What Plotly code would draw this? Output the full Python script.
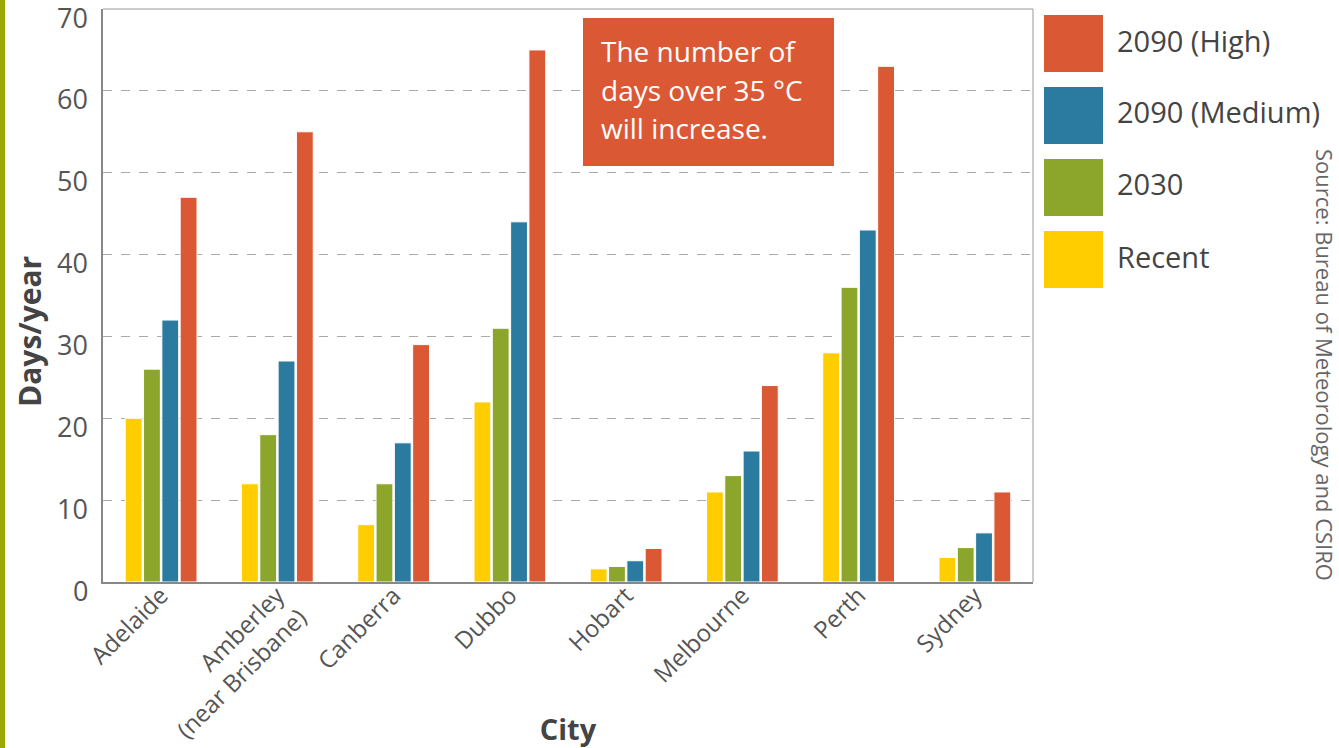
import plotly.graph_objects as go

cities = ["Adelaide", "Amberley<br>(near Brisbane)", "Canberra", "Dubbo", "Hobart",
          "Melbourne", "Perth", "Sydney"]
recent = [20, 12, 7, 22, 1.6, 11, 28, 3]
y2030 = [26, 18, 12, 31, 1.9, 13, 36, 4.2]
medium_2090 = [32, 27, 17, 44, 2.6, 16, 43, 6]
high_2090 = [47, 55, 29, 65, 4.1, 24, 63, 11]

series_names = ["Recent", "2030", "2090 (Medium)", "2090 (High)"]
series_values = [recent, y2030, medium_2090, high_2090]
series_colors = ["#FFCD00", "#8BA62A", "#2B7BA0", "#DB5834"]

y_ticks = [0, 10, 20, 30, 40, 50, 60, 70]
callout_lines = ["The number of", "days over 35 °C", "will increase."]
source_text = "Source: Bureau of Meteorology and CSIRO"

W, H = 1339, 748
ML, MR, MT, MB = 103, 306, 9, 166
PW, PH = W - ML - MR, H - MT - MB

FONT = "Open Sans"
fig = go.Figure()
for name, vals, col in zip(series_names, series_values, series_colors):
    fig.add_trace(go.Bar(x=cities, y=vals, name=name, marker_color=col,
                         marker_line_color="white", marker_line_width=1))

def px_x(px):
    return (px - ML) / PW

def px_y(py):
    return (H - MB - py) / PH

shapes = []
annotations = []
# legend (drawn manually, top to bottom: High, Medium, 2030, Recent)
for i, (name, col) in enumerate(reversed(list(zip(series_names, series_colors)))):
    top = 15 + i * 72
    shapes.append(dict(type="rect", xref="paper", yref="paper",
                       x0=px_x(1044), x1=px_x(1103), y0=px_y(top + 57), y1=px_y(top),
                       fillcolor=col, line=dict(width=0)))
    annotations.append(dict(xref="paper", yref="paper", x=px_x(1115), y=px_y(top + 25),
                            text=name, showarrow=False, xanchor="left", yanchor="middle",
                            font=dict(family=FONT, size=29, color="#444")))

# y tick labels (sit slightly below their gridlines, as in the original)
for v in y_ticks:
    annotations.append(dict(xref="paper", yref="y", x=px_x(90), y=v, yshift=-8,
                            text=str(v), showarrow=False, xanchor="right", yanchor="middle",
                            font=dict(family=FONT, size=27, color="#555")))

# y axis title
annotations.append(dict(xref="paper", yref="paper", x=px_x(30), y=px_y(332),
                        text="<b>Days/year</b>", showarrow=False, textangle=-90,
                        xanchor="center", yanchor="middle",
                        font=dict(family=FONT, size=30, color="#444")))

# callout box
shapes.append(dict(type="rect", xref="paper", yref="paper",
                   x0=px_x(583), x1=px_x(834), y0=px_y(166), y1=px_y(18),
                   fillcolor="#DB5834", line=dict(width=0)))
for j, line in enumerate(callout_lines):
    annotations.append(dict(xref="paper", yref="paper", x=px_x(599), y=px_y(51 + j * 38.5),
                            text=line, showarrow=False, xanchor="left", yanchor="middle",
                            align="left", font=dict(family=FONT, size=28, color="white")))

# source text (rotated)
annotations.append(dict(xref="paper", yref="paper", x=px_x(1325), y=px_y(365),
                        text=source_text,
                        showarrow=False, textangle=90, xanchor="center", yanchor="middle",
                        font=dict(family=FONT, size=22, color="#666")))

# left olive strip
shapes.append(dict(type="rect", xref="paper", yref="paper",
                   x0=px_x(0), x1=px_x(5), y0=px_y(H), y1=px_y(0),
                   fillcolor="#9AAA00", line=dict(width=0)))

# thin top/right frame
shapes.append(dict(type="line", xref="paper", yref="paper", x0=0, x1=1, y0=1, y1=1,
                   line=dict(color="#999", width=1)))
shapes.append(dict(type="line", xref="paper", yref="paper", x0=1, x1=1, y0=0, y1=1,
                   line=dict(color="#999", width=1)))

fig.update_layout(
    width=W, height=H,
    margin=dict(l=ML, r=MR, t=MT, b=MB, autoexpand=False),
    barmode="group", bargap=0.37, bargroupgap=0.08,
    plot_bgcolor="white", paper_bgcolor="white",
    showlegend=False,
    shapes=shapes, annotations=annotations,
    font=dict(family=FONT, color="#555"),
    xaxis=dict(
        tickangle=-45, tickfont=dict(family=FONT, size=24, color="#555"),
        showline=True, linecolor="#888", linewidth=2, ticks="", automargin=False,
        ticklabelstandoff=-12,
        title=dict(text="<b>City</b>", font=dict(family=FONT, size=29, color="#444"),
                   standoff=10),
    ),
    yaxis=dict(
        range=[0, 70], tickvals=y_ticks, showticklabels=False,
        showline=True, linecolor="#888", linewidth=2, ticks="", automargin=False,
        showgrid=True, gridcolor="#aaa", griddash="dash", gridwidth=1,
        zeroline=False,
    ),
)

fig.write_html("out.html")
